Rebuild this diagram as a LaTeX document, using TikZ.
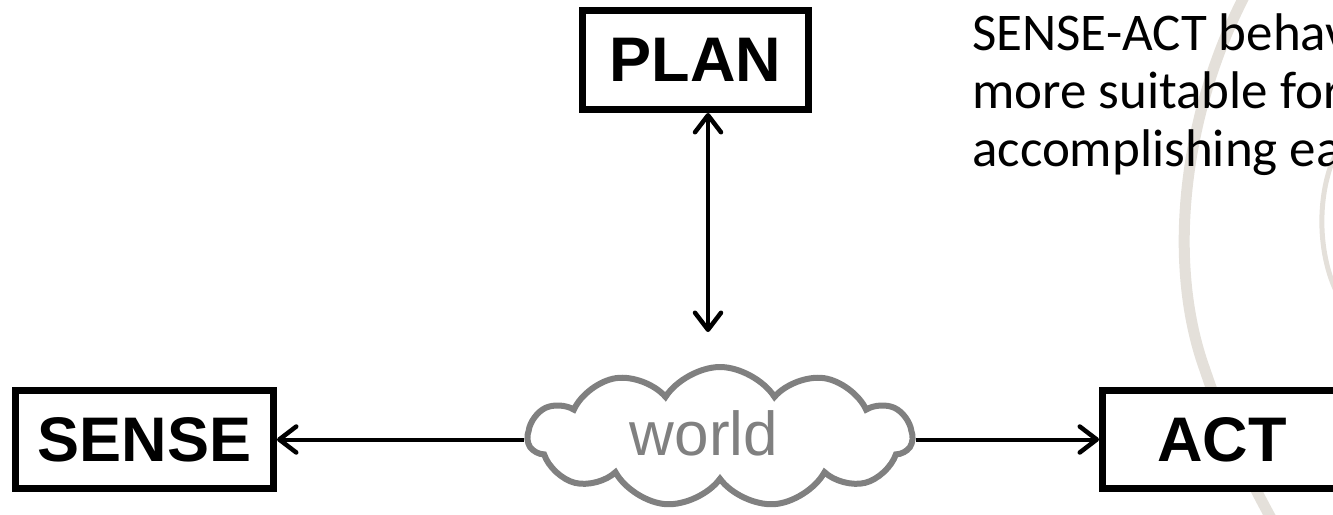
\documentclass[tikz,border=0pt]{standalone}
\usepackage{fontspec}
\setmainfont{Liberation Sans}
\newfontfamily\bodyfont{Carlito}
\usetikzlibrary{arrows.meta,shapes.symbols}
\definecolor{wmark}{HTML}{E4E0DA}
\definecolor{cloudgrey}{HTML}{808080}
\tikzset{
  blockbox/.style={draw=black, line width=7pt, fill=white, inner sep=0pt,
    font=\fontsize{63}{70}\selectfont\bfseries},
  link/.style={line width=4pt, draw=black, line cap=butt},
  barbtip/.tip={Straight Barb[length=17pt,width=26pt,line width=4.5pt,line cap=round,line join=round]},
  tipbarb/.style={-barbtip},
  tipboth/.style={barbtip-barbtip},
  cloudshape/.style={cloud, cloud puffs=11, cloud puff arc=115, cloud ignores aspect,
    draw=cloudgrey, line width=6pt, fill=white, minimum width=384pt, minimum height=140pt},
  wordtext/.style={text=cloudgrey, font=\fontsize{62}{70}\selectfont, inner sep=0pt, anchor=base},
  notetext/.style={font=\bodyfont\fontsize{53}{58}\selectfont, inner sep=0pt, anchor=north west, align=left}
}
\begin{document}
\begin{tikzpicture}[x=1pt,y=-1pt]
\useasboundingbox (0,0) rectangle (1333,514);
% watermark arcs
\draw[wmark, line width=11pt] (1245,-5) .. controls (1185,110) and (1165,260) .. (1205,370)
  .. controls (1225,430) and (1250,480) .. (1272,520);
\draw[wmark, line width=5pt] (1338,150) .. controls (1318,185) and (1315,250) .. (1338,295);
\draw[wmark, line width=5pt] (1333,405) -- (1331,440);
% text block
\node[notetext] (note) at (972,13) {SENSE-ACT behav\\more suitable for\\accomplishing ea};
% boxes
\node[blockbox, minimum width=226pt, minimum height=99pt] (plan) at (695.5,60) {PLAN};
\node[blockbox, minimum width=258pt, minimum height=98pt] (sense) at (144.5,439.5) {SENSE};
\node[blockbox, minimum width=239pt, minimum height=98pt] (act) at (1222,439.5) {ACT};
% world cloud
\node[cloudshape] (world) at (720,437) {};
\node[wordtext] (worldlabel) at (704,455) {world};
% connectors
\coordinate (planend) at (708,332);
\draw[link, tipboth] (plan.south -| planend) -- (planend);
\draw[link, tipbarb] (world.west |- sense.east) -- (sense.east);
\draw[link, tipbarb] (world.east |- act.west) -- (act.west);
\end{tikzpicture}
\end{document}
